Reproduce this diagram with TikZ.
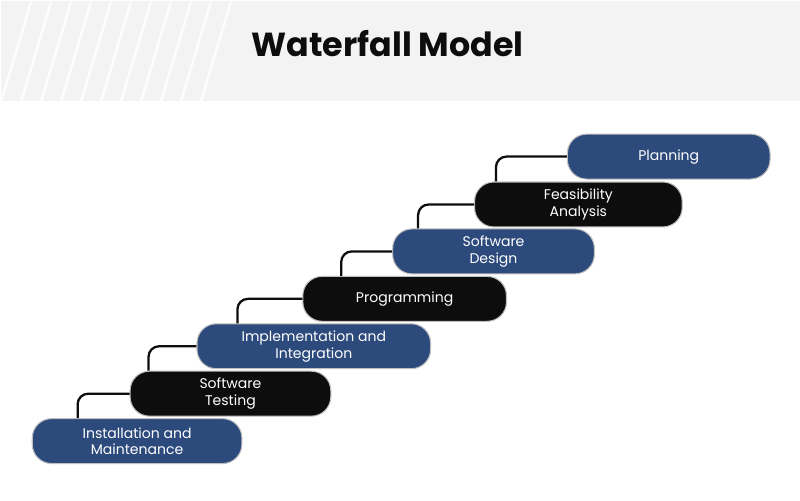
\documentclass[tikz,border=0pt]{standalone}
\usepackage{fontspec}
\setmainfont{Poppins}
\usetikzlibrary{calc}
\definecolor{stepblue}{HTML}{2D4A7C}
\definecolor{stepblack}{HTML}{0D0D0D}
\definecolor{band}{HTML}{F3F3F3}
\begin{document}
\begin{tikzpicture}[x=0.02cm,y=-0.02cm,
    phase/.style={draw=black!25, line width=0.6pt, rounded corners=11pt, text=white,
      align=center, font=\fontsize{8pt}{9.5pt}\selectfont, inner sep=0pt,
      minimum height=45*0.02cm},
    bluephase/.style={phase, fill=stepblue},
    darkphase/.style={phase, fill=stepblack},
    link/.style={draw=stepblack, line width=1.3pt, rounded corners=6pt}]
  % background
  \fill[white] (0,0) rectangle (800,500);
  \fill[band] (0,0) rectangle (800,100);
  \foreach \x in {0,20,...,200}
    \draw[white, line width=1.5pt, opacity=0.8] (\x,100) -- (\x+30,0);
  \node[font=\fontsize{19pt}{22pt}\selectfont\bfseries, text=stepblack] (title) at (387,42) {Waterfall Model};
  % phases
  \node[bluephase, minimum width=203*0.02cm] (plan) at (668.5,155.5) {Planning};
  \node[darkphase, minimum width=208*0.02cm] (feas) at (578,203.5) {Feasibility\\Analysis};
  \node[bluephase, minimum width=202*0.02cm] (design) at (493,250.5) {Software\\Design};
  \node[darkphase, minimum width=204*0.02cm] (prog) at (404,298) {Programming};
  \node[bluephase, minimum width=234*0.02cm] (impl) at (313,345.5) {Implementation and\\Integration};
  \node[darkphase, minimum width=201*0.02cm] (test) at (229.5,393) {Software\\Testing};
  \node[bluephase, minimum width=210*0.02cm] (inst) at (136,440.5) {Installation and\\Maintenance};
  % connectors
  \draw[link] (plan.west) -| ($(feas.north west)+(22,0)$);
  \draw[link] (feas.west) -| ($(design.north west)+(26,0)$);
  \draw[link] (design.west) -| ($(prog.north west)+(39,0)$);
  \draw[link] (prog.west) -| ($(impl.north west)+(41,0)$);
  \draw[link] (impl.west) -| ($(test.north west)+(19,0)$);
  \draw[link] (test.west) -| ($(inst.north west)+(46,0)$);
\end{tikzpicture}
\end{document}
